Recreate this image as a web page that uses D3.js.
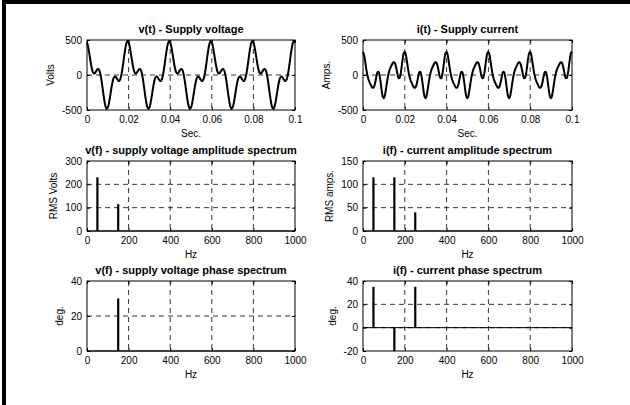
<!DOCTYPE html>
<html>
<head>
<meta charset="utf-8">
<script src="https://cdn.jsdelivr.net/npm/d3@7"></script>
<style>
  html, body { margin: 0; padding: 0; background: #fff; }
  svg { display: block; font-family: "Liberation Sans", Arial, Helvetica, sans-serif; }
</style>
</head>
<body>
<svg id="chart" width="630" height="405"></svg>
<script>
// time samples, one every 0.5 ms from 0 to 0.1 s
const sampleStep = 0.0005;

// v(t) (Volts)
const supplyVoltage = [
  466,410,326,232,142,73,32,21,34,59,81,86,61,4,-82,-188,-297,-392,-458,-484,-466,-410,-326,-232,-142,-73,-32,-21,-34,-59,-81,-86,-61,-4,82,188,297,392,458,484,
  466,410,326,232,142,73,32,21,34,59,81,86,61,4,-82,-188,-297,-392,-458,-484,-466,-410,-326,-232,-142,-73,-32,-21,-34,-59,-81,-86,-61,-4,82,188,297,392,458,484,
  466,410,326,232,142,73,32,21,34,59,81,86,61,4,-82,-188,-297,-392,-458,-484,-466,-410,-326,-232,-142,-73,-32,-21,-34,-59,-81,-86,-61,-4,82,188,297,392,458,484,
  466,410,326,232,142,73,32,21,34,59,81,86,61,4,-82,-188,-297,-392,-458,-484,-466,-410,-326,-232,-142,-73,-32,-21,-34,-59,-81,-86,-61,-4,82,188,297,392,458,484,
  466,410,326,232,142,73,32,21,34,59,81,86,61,4,-82,-188,-297,-392,-458,-484,-466,-410,-326,-232,-142,-73,-32,-21,-34,-59,-81,-86,-61,-4,82,188,297,392,458,484,
  466
];

// i(t) (Amps.)
const supplyCurrent = [
  332,288,200,99,12,-50,-93,-127,-157,-180,-181,-149,-85,-11,41,43,-16,-120,-233,-313,-332,-288,-200,-99,-12,50,93,127,157,180,181,149,85,11,-41,-43,16,120,233,313,
  332,288,200,99,12,-50,-93,-127,-157,-180,-181,-149,-85,-11,41,43,-16,-120,-233,-313,-332,-288,-200,-99,-12,50,93,127,157,180,181,149,85,11,-41,-43,16,120,233,313,
  332,288,200,99,12,-50,-93,-127,-157,-180,-181,-149,-85,-11,41,43,-16,-120,-233,-313,-332,-288,-200,-99,-12,50,93,127,157,180,181,149,85,11,-41,-43,16,120,233,313,
  332,288,200,99,12,-50,-93,-127,-157,-180,-181,-149,-85,-11,41,43,-16,-120,-233,-313,-332,-288,-200,-99,-12,50,93,127,157,180,181,149,85,11,-41,-43,16,120,233,313,
  332,288,200,99,12,-50,-93,-127,-157,-180,-181,-149,-85,-11,41,43,-16,-120,-233,-313,-332,-288,-200,-99,-12,50,93,127,157,180,181,149,85,11,-41,-43,16,120,233,313,
  332
];

// spectra
const vAmpHz = [50, 150];
const vAmpRms = [230, 115];
const iAmpHz = [50, 150, 250];
const iAmpRms = [115, 115, 40];
const vPhaseHz = [150];
const vPhaseDeg = [30];
const iPhaseHz = [50, 150, 250];
const iPhaseDeg = [35, -20, 35];

// ticks
const timeTicks = [0, 0.02, 0.04, 0.06, 0.08, 0.1];
const waveTicks = [-500, 0, 500];
const hzTicks = [0, 200, 400, 600, 800, 1000];
const vAmpTicks = [0, 100, 200, 300];
const iAmpTicks = [0, 50, 100, 150];
const vPhaseTicks = [0, 20, 40];
const iPhaseTicks = [-20, 0, 20, 40];

const svg = d3.select("#chart");

// frame of the figure (only left and top edges are in view)
svg.append("path")
  .attr("d", "M4,405 L4,2 L630,2")
  .attr("fill", "none")
  .attr("stroke", "black")
  .attr("stroke-width", 4);

const cols = [[87, 295], [363, 572]];
const rows = [[40, 110], [161, 231], [281, 351]];

function makePanel(opt) {
  const [x0, x1] = cols[opt.col];
  const [y0, y1] = rows[opt.row];
  const x = d3.scaleLinear().domain(opt.xDomain).range([x0, x1]);
  const y = d3.scaleLinear().domain(opt.yDomain).range([y1, y0]);
  const g = svg.append("g");

  // dashed grid
  const grid = g.append("g")
    .attr("stroke", "black")
    .attr("stroke-width", 0.8)
    .attr("stroke-dasharray", "5,4");
  grid.selectAll(".gx")
    .data(opt.xTicks.filter(d => d !== opt.xDomain[0] && d !== opt.xDomain[1]))
    .join("line")
    .attr("x1", d => x(d)).attr("x2", d => x(d))
    .attr("y1", y0).attr("y2", y1);
  grid.selectAll(".gy")
    .data(opt.yTicks.filter(d => d !== opt.yDomain[0] && d !== opt.yDomain[1]))
    .join("line")
    .attr("x1", x0).attr("x2", x1)
    .attr("y1", d => y(d)).attr("y2", d => y(d));

  const data = g.append("g");

  const finish = () => {
    // box
    g.append("rect")
      .attr("x", x0).attr("y", y0)
      .attr("width", x1 - x0).attr("height", y1 - y0)
      .attr("fill", "none")
      .attr("stroke", "black")
      .attr("stroke-width", 1);

    const gx = g.append("g")
      .attr("transform", `translate(0,${y1})`)
      .call(d3.axisBottom(x).tickValues(opt.xTicks).tickFormat(d => String(d))
        .tickSizeInner(-3).tickSizeOuter(0).tickPadding(6));
    const gy = g.append("g")
      .attr("transform", `translate(${x0},0)`)
      .call(d3.axisLeft(y).tickValues(opt.yTicks).tickFormat(d => String(d))
        .tickSizeInner(-3).tickSizeOuter(0).tickPadding(5));
    // top and right inner ticks
    g.append("g")
      .attr("transform", `translate(0,${y0})`)
      .call(d3.axisTop(x).tickValues(opt.xTicks).tickFormat("").tickSizeInner(-3).tickSizeOuter(0));
    g.append("g")
      .attr("transform", `translate(${x1},0)`)
      .call(d3.axisRight(y).tickValues(opt.yTicks).tickFormat("").tickSizeInner(-3).tickSizeOuter(0));

    g.selectAll(".domain").remove();
    g.selectAll(".tick line").attr("stroke", "black");
    g.selectAll(".tick text")
      .attr("fill", "black")
      .style("font-size", "10px")
      .style("font-family", '"Liberation Sans", Arial, sans-serif');

    // title
    g.append("text")
      .attr("x", (x0 + x1) / 2)
      .attr("y", y0 - 7)
      .attr("text-anchor", "middle")
      .style("font-size", "11px")
      .style("font-weight", "bold")
      .text(opt.title);

    // x label
    g.append("text")
      .attr("x", (x0 + x1) / 2)
      .attr("y", y1 + 27)
      .attr("text-anchor", "middle")
      .style("font-size", "10px")
      .text(opt.xLabel);

    // y label, left of the tick labels
    const bb = gy.node().getBBox();
    const lx = x0 + bb.x - 8;
    g.append("text")
      .attr("transform", `translate(${lx},${(y0 + y1) / 2}) rotate(-90)`)
      .attr("text-anchor", "middle")
      .style("font-size", "10px")
      .text(opt.yLabel);
  };

  return { x, y, data, finish, x0, x1 };
}

function drawWave(opt, values) {
  const p = makePanel(opt);
  const line = d3.line()
    .x((d, i) => p.x(i * sampleStep))
    .y(d => p.y(d))
    .curve(d3.curveCatmullRom);
  p.data.append("path")
    .datum(values)
    .attr("d", line)
    .attr("fill", "none")
    .attr("stroke", "black")
    .attr("stroke-width", 2)
    .attr("stroke-linejoin", "round");
  p.finish();
}

function drawStems(opt, hz, vals) {
  const p = makePanel(opt);
  // stem baseline
  p.data.append("line")
    .attr("x1", p.x0).attr("x2", p.x1)
    .attr("y1", p.y(0)).attr("y2", p.y(0))
    .attr("stroke", "black")
    .attr("stroke-width", 1);
  p.data.selectAll(".stem")
    .data(hz.map((f, i) => ({ f, v: vals[i] })))
    .join("line")
    .attr("class", "stem")
    .attr("x1", d => p.x(d.f)).attr("x2", d => p.x(d.f))
    .attr("y1", p.y(0)).attr("y2", d => p.y(d.v))
    .attr("stroke", "black")
    .attr("stroke-width", 2.2);
  p.finish();
}

drawWave({ col: 0, row: 0, xDomain: [0, 0.1], yDomain: [-500, 500], xTicks: timeTicks, yTicks: waveTicks,
  title: "v(t) - Supply voltage", xLabel: "Sec.", yLabel: "Volts" }, supplyVoltage);
drawWave({ col: 1, row: 0, xDomain: [0, 0.1], yDomain: [-500, 500], xTicks: timeTicks, yTicks: waveTicks,
  title: "i(t) - Supply current", xLabel: "Sec.", yLabel: "Amps." }, supplyCurrent);

drawStems({ col: 0, row: 1, xDomain: [0, 1000], yDomain: [0, 300], xTicks: hzTicks, yTicks: vAmpTicks,
  title: "v(f) - supply voltage amplitude spectrum", xLabel: "Hz", yLabel: "RMS Volts" }, vAmpHz, vAmpRms);
drawStems({ col: 1, row: 1, xDomain: [0, 1000], yDomain: [0, 150], xTicks: hzTicks, yTicks: iAmpTicks,
  title: "i(f) - current amplitude spectrum", xLabel: "Hz", yLabel: "RMS amps." }, iAmpHz, iAmpRms);

drawStems({ col: 0, row: 2, xDomain: [0, 1000], yDomain: [0, 40], xTicks: hzTicks, yTicks: vPhaseTicks,
  title: "v(f) - supply voltage phase spectrum", xLabel: "Hz", yLabel: "deg." }, vPhaseHz, vPhaseDeg);
drawStems({ col: 1, row: 2, xDomain: [0, 1000], yDomain: [-20, 40], xTicks: hzTicks, yTicks: iPhaseTicks,
  title: "i(f) - current phase spectrum", xLabel: "Hz", yLabel: "deg." }, iPhaseHz, iPhaseDeg);
</script>
</body>
</html>
